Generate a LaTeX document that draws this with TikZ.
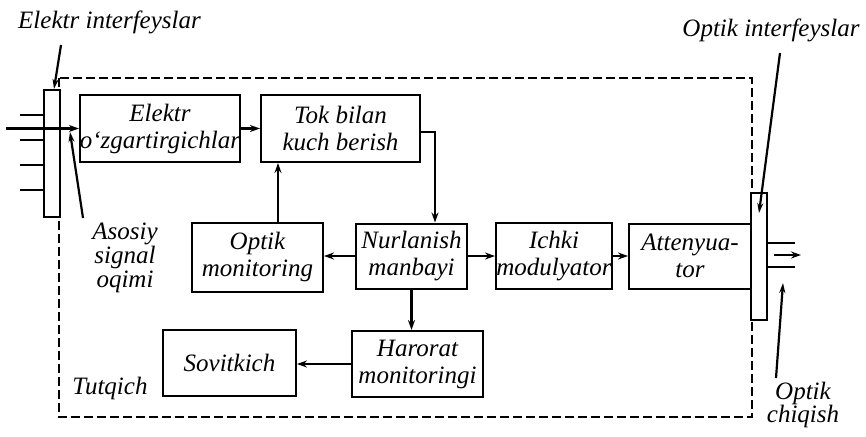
\documentclass[tikz,border=0pt]{standalone}
\usepackage{fontspec}
\setmainfont{Liberation Serif}
\usetikzlibrary{arrows.meta,calc}
\begin{document}
\begin{tikzpicture}[x=1pt,y=-1pt,
  txt/.style={font=\fontsize{25}{27}\selectfont\itshape, align=center, inner sep=0pt},
  blk/.style={txt, draw, line width=2pt},
  bar/.style={draw, line width=2pt, minimum width=16pt, minimum height=127pt, inner sep=0pt},
  arr/.style={line width=2.6pt, -{Stealth[length=10pt,width=7pt]}},
  lead/.style={line width=2.2pt, -{Stealth[length=10pt,width=6pt]}},
  thin/.style={line width=2pt}]
\useasboundingbox (0,0) rectangle (866,436);
% frame
\draw[line width=2.6pt, dash pattern=on 9pt off 4pt] (59,78) rectangle (752,417);
% interface bars
\node[bar, fill=white] (lbar) at (52,153.5) {};
\node[bar, fill=white] (rbar) at (759,256.5) {};
% blocks
\node[blk, minimum width=160pt, minimum height=67pt] (elek) at (160,128.5) {Elektr\\o‘zgartirgichlar};
\node[blk, minimum width=159pt, minimum height=67pt] (tok) at (340.5,128.5) {Tok bilan\\kuch berish};
\node[blk, minimum width=131pt, minimum height=69pt] (om) at (257.5,257) {Optik\\monitoring};
\node[blk, minimum width=111pt, minimum height=65pt] (nur) at (411.5,256) {Nurlanish\\manbayi};
\node[blk, minimum width=116pt, minimum height=66pt] (ich) at (554,256) {Ichki\\modulyator};
\node[blk, minimum width=122pt, minimum height=65pt] (att) at (690,256) {Attenyua-\\tor};
\node[blk, minimum width=131pt, minimum height=66pt] (har) at (417.5,364) {Harorat\\monitoringi};
\node[blk, minimum width=133pt, minimum height=66pt] (sov) at (229.5,363) {Sovitkich};
% labels
\node[txt, anchor=west] (lei) at (18,22) {Elektr interfeyslar};
\node[txt] (loi) at (771,30) {Optik interfeyslar};
\node[txt, font=\fontsize{25}{24}\selectfont\itshape] (las) at (125,258) {Asosiy\\signal\\oqimi};
\node[txt, font=\fontsize{25}{22}\selectfont\itshape] (loc) at (803,405) {Optik\\chiqish};
\node[txt] (ltut) at (110,388) {Tutqich};
% left input lines
\foreach \y/\n in {115/a,140/b,165/c,190/d}{
  \coordinate (li\n) at (20,\y);
  \draw[thin] (li\n) -- (li\n -| lbar.west);
}
\coordinate (in) at (6,128.5);
\draw[arr] (in) -- (elek.west);
% right output lines
\coordinate (ro1) at (795,243);
\coordinate (ro2) at (795,267);
\draw[thin] (ro1) -- (ro1 -| rbar.east);
\draw[thin] (ro2) -- (ro2 -| rbar.east);
\coordinate (oa) at (774,255);
\coordinate (ob) at (801,255);
\draw[arr] (oa) -- (ob);
% connectors
\draw[arr] (elek.east) -- (tok.west);
\draw[arr] ([yshift=-3.5pt]tok.east) -| ([xshift=23.5pt]nur.north);
\draw[arr] ([xshift=20.5pt]om.north) -- ([xshift=20.5pt]om.north |- tok.south);
\draw[arr] (nur.west) -- (nur.west -| om.east);
\draw[arr] (nur.east) -- (nur.east -| ich.west);
\draw[arr] (ich.east) -- (ich.east -| att.west);
\draw[arr] (nur.south) -- (nur.south |- har.north);
\draw[arr] (har.west) -- (har.west -| sov.east);
% leaders
\coordinate (e1) at (61,45); \coordinate (e2) at (54,89);
\draw[lead] (e1) -- (e2);
\coordinate (a1) at (83,218); \coordinate (a2) at (70,132);
\draw[lead] (a1) -- (a2);
\coordinate (o1) at (780,53); \coordinate (o2) at (759,213);
\draw[lead] (o1) -- (o2);
\coordinate (c1) at (776,378); \coordinate (c2) at (783,283);
\draw[lead] (c1) -- (c2);
\end{tikzpicture}
\end{document}
